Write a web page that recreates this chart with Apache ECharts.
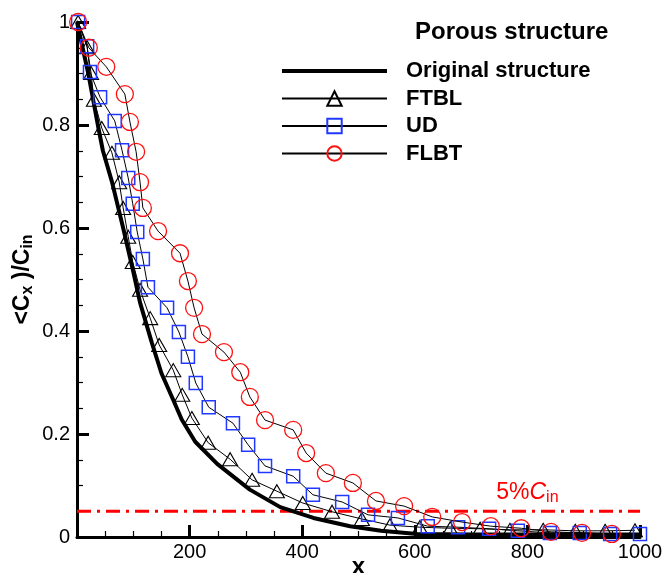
<!DOCTYPE html>
<html><head><meta charset="utf-8">
<script src="https://cdn.jsdelivr.net/npm/echarts@6/dist/echarts.min.js"></script>
<style>html,body{margin:0;padding:0;background:#fff}#c{width:666px;height:573px}</style>
</head><body><div id="c"></div>
<script>
// ---- data ----
const seriesNames = ['Original structure', 'FTBL', 'UD', 'FLBT'];
const xOriginal = [0, 10, 20, 37, 46, 62, 82, 100, 112, 133, 150, 171, 186, 210, 249, 307, 361, 420, 485, 540, 604, 700, 800, 900, 1000];
const yOriginal = [1, 0.95, 0.9, 0.8, 0.75, 0.69, 0.6, 0.515, 0.455, 0.377, 0.318, 0.266, 0.228, 0.185, 0.142, 0.092, 0.058, 0.037, 0.021, 0.012, 0.006, 0.005, 0.005, 0.005, 0.005];
const xFTBL = [2, 18, 25, 30, 44, 62, 75, 82, 91, 99, 112, 130, 146, 171, 187, 204, 233, 272, 311, 355, 401, 453, 506, 556, 609, 663, 716, 769, 828, 885, 938, 991];
const yFTBL = [1.0, 0.951, 0.901, 0.849, 0.794, 0.746, 0.689, 0.639, 0.583, 0.534, 0.48, 0.425, 0.373, 0.324, 0.276, 0.231, 0.183, 0.151, 0.111, 0.089, 0.066, 0.049, 0.035, 0.023, 0.019, 0.017, 0.016, 0.014, 0.014, 0.012, 0.012, 0.013];
const xUD = [2, 18, 23, 41, 67, 80, 91, 99, 107, 117, 126, 160, 181, 197, 211, 234, 277, 304, 334, 384, 419, 471, 517, 570, 623, 677, 732, 783, 840, 893, 947, 1000];
const yUD = [1.0, 0.953, 0.903, 0.854, 0.808, 0.751, 0.697, 0.647, 0.592, 0.54, 0.485, 0.445, 0.398, 0.35, 0.299, 0.252, 0.221, 0.179, 0.138, 0.118, 0.082, 0.068, 0.043, 0.037, 0.021, 0.019, 0.016, 0.012, 0.008, 0.008, 0.006, 0.006];
const xFLBT = [2, 21, 52, 85, 94, 105, 112, 117, 144, 183, 197, 208, 222, 261, 290, 307, 334, 384, 407, 442, 490, 531, 581, 631, 684, 735, 789, 842, 897, 950];
const yFLBT = [1.0, 0.95, 0.913, 0.86, 0.806, 0.748, 0.689, 0.639, 0.594, 0.551, 0.497, 0.445, 0.394, 0.359, 0.32, 0.272, 0.227, 0.208, 0.163, 0.124, 0.105, 0.07, 0.06, 0.039, 0.029, 0.021, 0.017, 0.01, 0.008, 0.006];
const thresholdValue = 0.05;
const thresholdLabelX = 800;
const xTickLabels = ['', '200', '400', '600', '800', '1000'];
const yTickLabels = ['0', '0.2', '0.4', '0.6', '0.8', '1'];

const zip = (xs, ys) => xs.map((x, i) => [x, ys[i]]);
const FONT = '"Liberation Sans", Arial, sans-serif';

const chart = echarts.init(document.getElementById('c'), null, {renderer: 'canvas'});
chart.setOption({
  animation: false,
  backgroundColor: '#fff',
  textStyle: {fontFamily: FONT},
  title: {
    text: 'Porous structure', left: 410, top: 15,
    textStyle: {fontFamily: FONT, fontSize: 24, fontWeight: 'bold', color: '#000'}
  },
  legend: {
    orient: 'vertical', left: 281, top: 60, padding: 0,
    itemWidth: 105, itemHeight: 18, itemGap: 5.5,
    selectedMode: false,
    textStyle: {fontFamily: FONT, fontSize: 22, fontWeight: 'bold', color: '#000', lineHeight: 22, padding: [0, 0, 0, 14]},
    data: [
      {name: seriesNames[0], icon: 'path://M0,0H105V4H0Z'},
      {name: seriesNames[1]},
      {name: seriesNames[2]},
      {name: seriesNames[3]}
    ]
  },
  grid: {left: 77, right: 26, top: 22, bottom: 36, containLabel: false, outerBoundsMode: 'none'},
  xAxis: {
    type: 'value', min: 0, max: 1000, interval: 200,
    name: 'x', nameLocation: 'middle', nameGap: 18, nameMoveOverlap: false,
    nameTextStyle: {fontFamily: FONT, fontSize: 24, fontWeight: 'bold', color: '#000'},
    axisLine: {show: true, onZero: false, lineStyle: {color: '#000', width: 3}},
    axisTick: {show: true, inside: true, length: 12, lineStyle: {color: '#000', width: 3}},
    minorTick: {show: true, splitNumber: 4, length: 6, lineStyle: {color: '#000', width: 1.2}},
    axisLabel: {fontFamily: FONT, fontSize: 20, color: '#000', margin: 5,
      formatter: (v) => xTickLabels[Math.round(v / 200)]},
    splitLine: {show: false}
  },
  yAxis: {
    type: 'value', min: 0, max: 1, interval: 0.2,
    name: '{a|<C}{s|x}{a| )/C}{s|in}', nameLocation: 'middle', nameGap: 41, nameRotate: 90, nameMoveOverlap: false,
    nameTextStyle: {
      rich: {
        a: {fontFamily: FONT, fontSize: 23, fontWeight: 'bold', color: '#000'},
        s: {fontFamily: FONT, fontSize: 16, fontWeight: 'bold', color: '#000', padding: [10, 0, 0, 0]}
      }
    },
    axisLine: {show: true, onZero: false, lineStyle: {color: '#000', width: 3}},
    axisTick: {show: true, inside: true, length: 12, lineStyle: {color: '#000', width: 3}},
    minorTick: {show: true, splitNumber: 4, length: 6, lineStyle: {color: '#000', width: 1.2}},
    axisLabel: {fontFamily: FONT, fontSize: 20, color: '#000', margin: 7,
      formatter: (v) => yTickLabels[Math.round(v / 0.2)]},
    splitLine: {show: false}
  },
  series: [
    {
      name: 'threshold', type: 'line', data: [[0, thresholdValue], [1000, thresholdValue]],
      symbol: 'none', silent: true, z: 1,
      lineStyle: {color: '#ff0000', width: 3, type: [14, 6, 3, 6]},
      markPoint: {
        symbol: 'circle', symbolSize: 0, silent: true,
        data: [{coord: [thresholdLabelX, thresholdValue]}],
        label: {
          show: true, position: 'top', distance: 6,
          formatter: '{a|5%}{b|C}{c|in}',
          rich: {
            a: {fontFamily: FONT, fontSize: 23, color: '#ff0000'},
            b: {fontFamily: FONT, fontSize: 23, fontStyle: 'italic', color: '#ff0000'},
            c: {fontFamily: FONT, fontSize: 16, color: '#ff0000', padding: [10, 0, 0, 0]}
          }
        }
      }
    },
    {
      name: seriesNames[0], type: 'line', data: zip(xOriginal, yOriginal),
      symbol: 'none', z: 3,
      itemStyle: {color: '#000'},
      lineStyle: {color: '#000', width: 4}
    },
    {
      name: seriesNames[1], type: 'line', data: zip(xFTBL, yFTBL),
      symbol: 'triangle', symbolSize: [15, 13], z: 4,
      itemStyle: {color: 'rgba(255,255,255,0)', borderColor: '#000', borderWidth: 1.1},
      lineStyle: {color: '#000', width: 1}
    },
    {
      name: seriesNames[2], type: 'line', data: zip(xUD, yUD),
      symbol: 'rect', symbolSize: 13, z: 5,
      itemStyle: {color: 'rgba(255,255,255,0)', borderColor: '#2038ff', borderWidth: 1.5},
      lineStyle: {color: '#000', width: 1}
    },
    {
      name: seriesNames[3], type: 'line', data: zip(xFLBT, yFLBT),
      symbol: 'circle', symbolSize: 17, z: 6,
      itemStyle: {color: 'rgba(255,255,255,0)', borderColor: '#ff1010', borderWidth: 1.3},
      lineStyle: {color: '#000', width: 1}
    }
  ]
});
</script>
</body></html>
